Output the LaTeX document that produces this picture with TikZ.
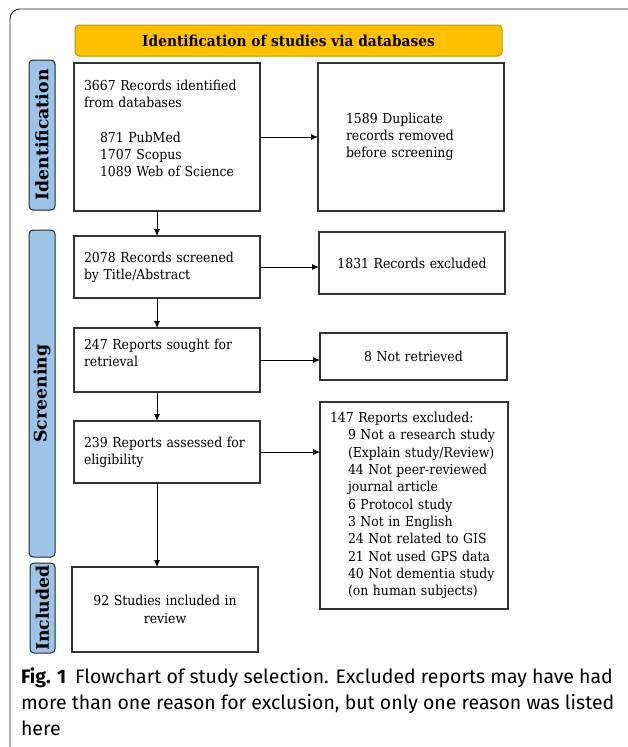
\documentclass[tikz,border=0pt]{standalone}
\usepackage{fontspec}
\setmainfont{DejaVu Serif}[FakeStretch=0.91]
\newfontfamily\phasefont{DejaVu Serif}
\newfontfamily\capfont{Fira Sans}
\usetikzlibrary{arrows.meta}
\definecolor{headgold}{HTML}{FFC000}
\definecolor{headedge}{HTML}{C09000}
\definecolor{phaseblue}{HTML}{9DC3E6}
\definecolor{phaseedge}{HTML}{1E2A36}

\begin{document}
\begin{tikzpicture}[x=1pt,y=-1pt,inner sep=0pt,outer sep=0pt,
>={Latex[length=7pt,width=6pt]},
flowbox/.style={draw=black!80,rectangle,line width=1.1pt,inner xsep=10pt,text width=166pt,minimum width=186pt,align=left,font=\fontsize{13.7}{17.3}\selectfont},
phasebox/.style={draw=phaseedge,fill=phaseblue,rounded corners=4pt,line width=1pt,rotate=90,font=\phasefont\bfseries\fontsize{17.3}{20}\selectfont},
arrowline/.style={->,line width=0.9pt}]
\useasboundingbox (0,0) rectangle (627,747);
% outer frame, runs off the page on the right and bottom
\draw[black!85,line width=0.9pt,rounded corners=10pt] (10,9) rectangle (660,790);

\draw (288.5,40.5) node[draw=headedge,fill=headgold,rounded corners=4pt,line width=1pt,minimum width=427pt,minimum height=31pt,font=\bfseries\fontsize{15.1}{17}\selectfont] (head) {Identification of studies via databases};

\draw (42,135) node[phasebox,minimum width=150pt,minimum height=26pt] (ident) {Identification};
\draw (42,393.5) node[phasebox,minimum width=327pt,minimum height=26pt] (screen) {Screening};
\draw (42.5,608) node[phasebox,minimum width=90pt,minimum height=25pt] (incl) {Included};

\draw (167,137) node[flowbox,minimum height=148pt] (found) {3667 Records identified\\from databases\\[17.3pt]
\hspace*{16pt}871 PubMed\\\hspace*{16pt}1707 Scopus\\\hspace*{16pt}1089 Web of Science\\\mbox{}};
\draw (411,137) node[flowbox,minimum height=148pt,inner xsep=28pt,text width=130pt] (dupl) {1589 Duplicate\\records removed\\before screening};

\draw (167,267) node[flowbox,minimum height=62pt] (scrd) {2078 Records screened\\by Title/Abstract};
\draw (412,263) node[flowbox,minimum height=62pt,align=center] (excl) {1831 Records excluded};

\draw (167,360) node[flowbox,minimum height=64pt] (sought) {247 Reports sought for\\retrieval\\[-3pt]\mbox{}};
\draw (413.5,356.5) node[flowbox,minimum height=47pt,minimum width=187pt,text width=167pt,align=center] (notret) {8 Not retrieved};

\draw (167,452) node[flowbox,minimum height=62pt] (assd) {239 Reports assessed for\\eligibility};
\draw (414,505.5) node[flowbox,minimum height=207pt,minimum width=188pt,text width=168pt] (rexcl) {147 Reports excluded:\\
\hspace*{18pt}9 Not a research study\\\hspace*{18pt}(Explain study/Review)\\
\hspace*{18pt}44 Not peer-reviewed\\\hspace*{18pt}journal article\\
\hspace*{18pt}6 Protocol study\\\hspace*{18pt}3 Not in English\\
\hspace*{18pt}24 Not related to GIS\\\hspace*{18pt}21 Not used GPS data\\
\hspace*{18pt}40 Not dementia study\\\hspace*{18pt}(on human subjects)};

\draw (165,609.5) node[flowbox,minimum height=85pt,align=center] (incd) {92 Studies included in\\review};

\coordinate (spine) at (157,0);
\draw[arrowline] (found) -- (dupl);
\draw[arrowline] (found.south -| spine) -- (scrd.north -| spine);
\draw[arrowline] (scrd.east) -- (scrd.east -| excl.west);
\draw[arrowline] (scrd.south -| spine) -- (sought.north -| spine);
\draw[arrowline] (sought.east) -- (sought.east -| notret.west);
\draw[arrowline] (sought.south -| spine) -- (assd.north -| spine);
\draw[arrowline] (assd.east) -- (assd.east -| rexcl.west);
\draw[arrowline] (assd.south -| spine) -- (incd.north -| spine);

\draw (21,668) node[anchor=north west,align=left,font=\capfont\fontsize{19.5}{25.6}\selectfont] (caption) {\textbf{Fig. 1}\hspace{9pt}Flowchart of study selection. Excluded reports may have had\\more than one reason for exclusion, but only one reason was listed\\here};
\end{tikzpicture}
\end{document}
